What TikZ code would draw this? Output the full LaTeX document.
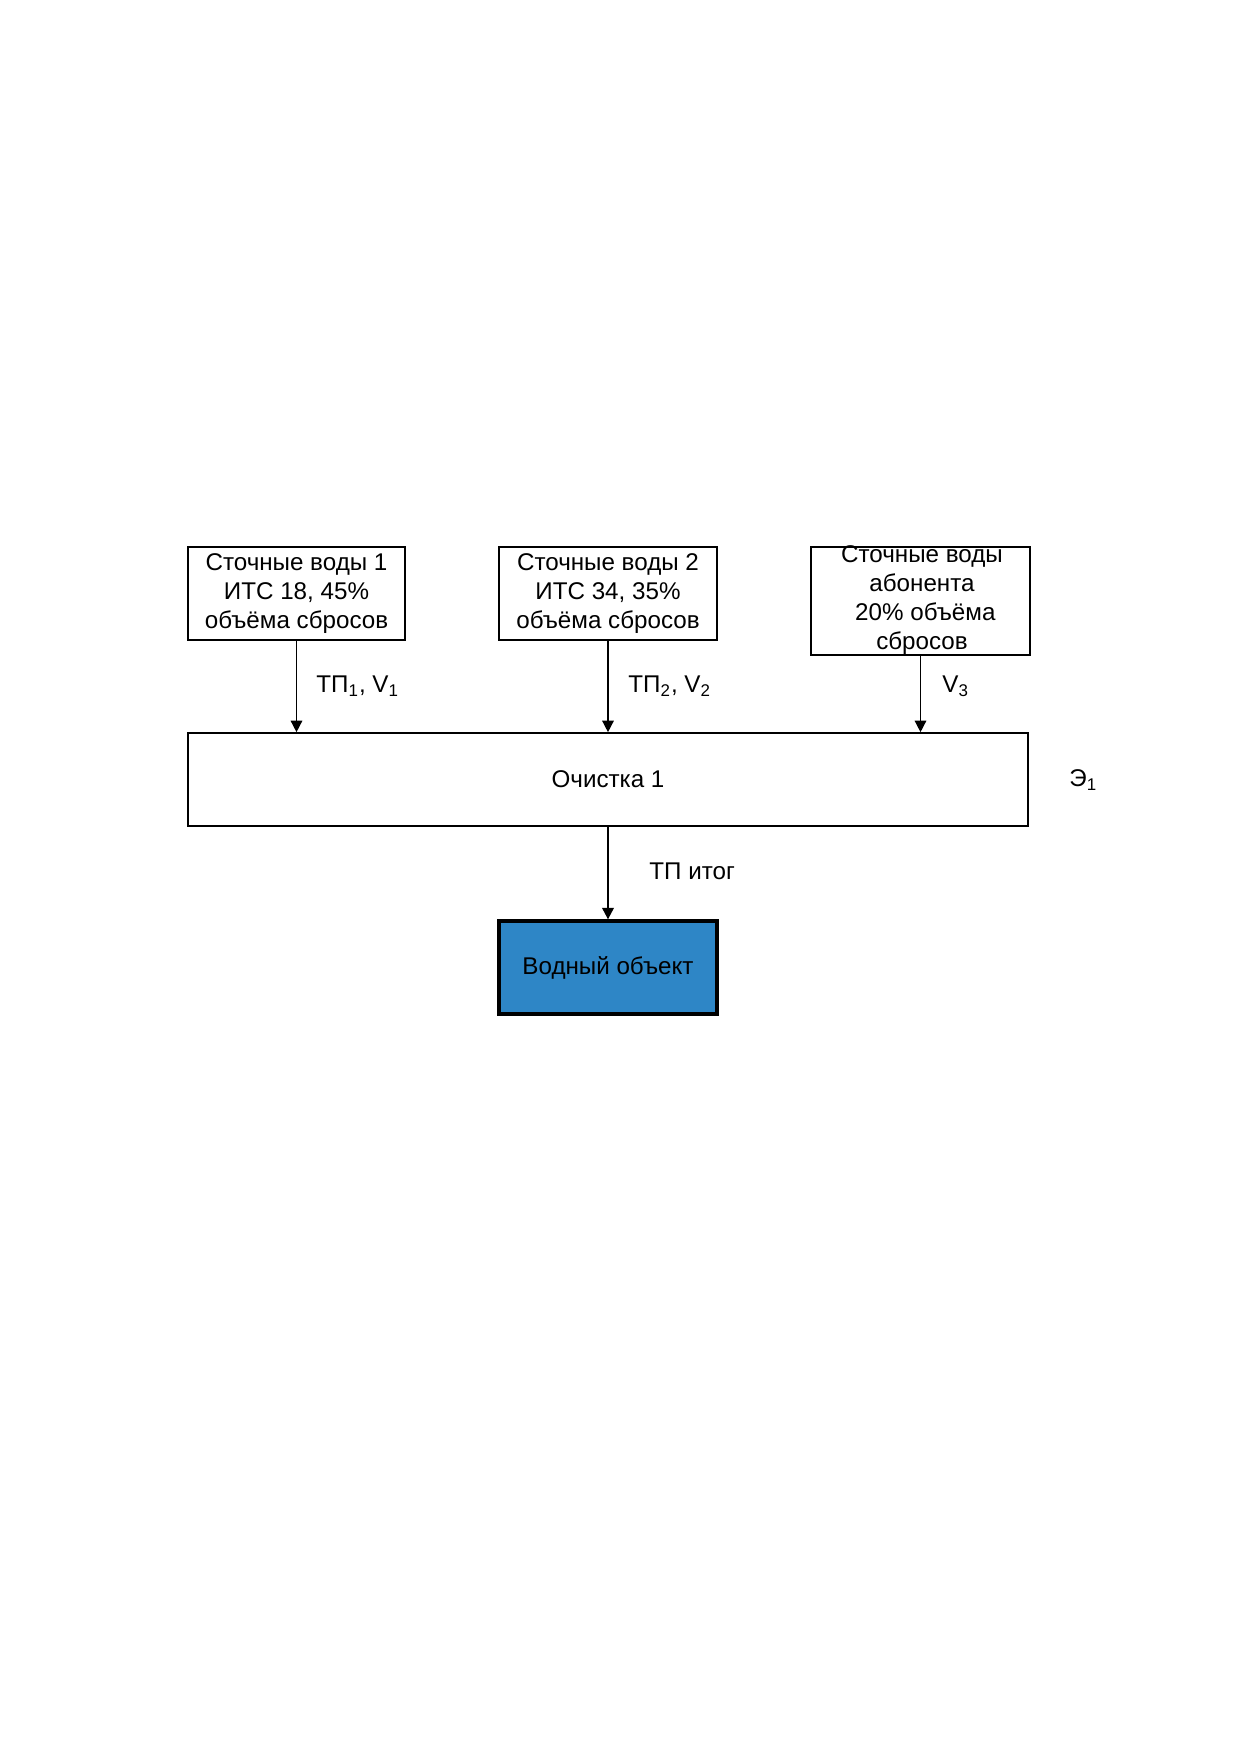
\documentclass[tikz,border=0pt]{standalone}
\usepackage{fontspec}
\setmainfont{Liberation Sans}
\usetikzlibrary{arrows.meta}
\definecolor{waterblue}{RGB}{46,134,198}
\begin{document}
\begin{tikzpicture}[x=0.4797pt,y=-0.4797pt,
  box/.style={draw,line width=0.8pt,inner sep=0pt,align=center,font=\fontsize{11.6}{13.8}\selectfont},
  lbl/.style={font=\fontsize{11.6}{14}\selectfont,inner sep=0pt,anchor=west},
  arr/.style={line width=0.7pt,-{Triangle[width=5.5pt,length=5.5pt]}}]
\useasboundingbox (0,0) rectangle (1241,1754);
\node[box,minimum width=104pt,minimum height=44.6pt] (b1) at (296.5,593.5) {Сточные воды 1\\ИТС 18, 45\%\\объёма сбросов};
\node[box,minimum width=104.5pt,minimum height=44.6pt] (b2) at (608,593.5) {Сточные воды 2\\ИТС 34, 35\%\\объёма сбросов};
\node[box,minimum width=105pt,minimum height=51.8pt] (b3) at (920.5,601) {};
\node[align=center,inner sep=0pt,font=\fontsize{11.6}{13.8}\selectfont] (t3) at (922,600) {Сточные воды\\абонента\\\ 20\% объёма\\сбросов};
\node[box,minimum width=403pt,minimum height=44.6pt] (c1) at (608,779.5) {Очистка 1};
\node[box,line width=1.6pt,fill=waterblue,minimum width=104.5pt,minimum height=44.6pt] (w) at (608,967.5) {Водный объект};
\draw[arr] (b1.south) -- (c1.north -| b1.south);
\draw[arr] (b2.south) -- (c1.north -| b2.south);
\draw[arr] (b3.south) -- (c1.north -| b3.south);
\draw[arr,line width=1pt] (c1.south) -- (w.north);
\node[lbl] (l1) at (316,686) {ТП\textsubscript{1}, V\textsubscript{1}};
\node[lbl] (l2) at (628,686) {ТП\textsubscript{2}, V\textsubscript{2}};
\node[lbl] (l3) at (942,686) {V\textsubscript{3}};
\node[lbl] (l4) at (1069,780) {Э\textsubscript{1}};
\node[lbl] (l5) at (649,871) {ТП итог};
\end{tikzpicture}
\end{document}
